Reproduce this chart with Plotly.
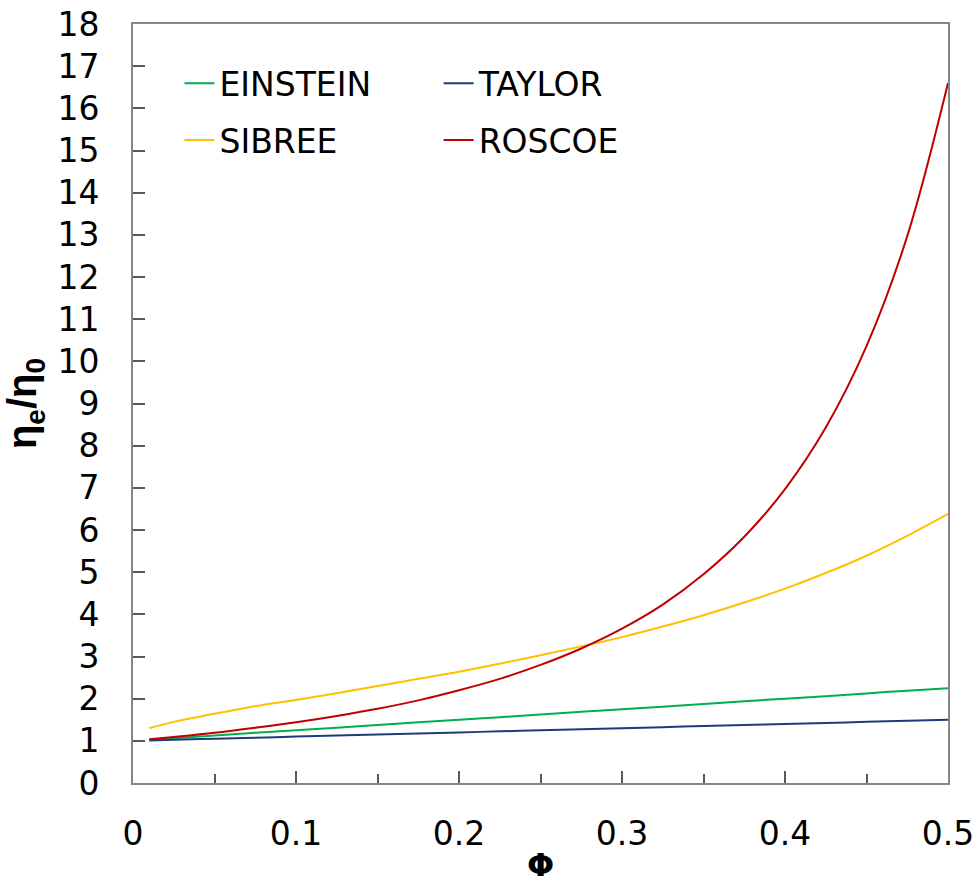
import plotly.graph_objects as go

# Data
phi = [0.01, 0.025, 0.05, 0.075, 0.1, 0.125, 0.15, 0.175, 0.2, 0.225, 0.25, 0.275,
       0.3, 0.325, 0.35, 0.375, 0.4, 0.425, 0.45, 0.475, 0.5]
einstein = [1.025, 1.06, 1.125, 1.19, 1.25, 1.31, 1.375, 1.44, 1.5, 1.56, 1.625, 1.69,
            1.75, 1.81, 1.875, 1.94, 2.0, 2.06, 2.125, 2.19, 2.25]
taylor = [1.01, 1.025, 1.05, 1.075, 1.1, 1.125, 1.15, 1.175, 1.2, 1.225, 1.25, 1.275,
          1.3, 1.325, 1.35, 1.375, 1.4, 1.425, 1.45, 1.475, 1.5]
sibree = [1.30, 1.45, 1.64, 1.82, 1.97, 2.13, 2.30, 2.47, 2.64, 2.83, 3.03, 3.24,
          3.46, 3.71, 3.98, 4.28, 4.61, 4.98, 5.39, 5.86, 6.38]
roscoe = [1.035, 1.09, 1.19, 1.31, 1.44, 1.59, 1.76, 1.96, 2.20, 2.47, 2.80, 3.19,
          3.66, 4.23, 4.95, 5.84, 6.97, 8.43, 10.36, 12.97, 16.6]

names = ["EINSTEIN", "TAYLOR", "SIBREE", "ROSCOE"]
colors = ["#00B050", "#1F3A7A", "#FFC000", "#C00000"]
series = [einstein, taylor, sibree, roscoe]
legends = ["legend", "legend2", "legend3", "legend4"]
x_title = "<b>Φ</b>"
y_title = "<b>η<sub>e</sub>/η<sub>0</sub></b>"

fig = go.Figure()
for n, c, s, lg in zip(names, colors, series, legends):
    fig.add_trace(go.Scatter(x=phi, y=s, mode="lines", name=n, showlegend=True,
                             line=dict(color=c, width=2, shape="spline"),
                             legend=lg))

tickfont = dict(family="DejaVu Sans", size=33, color="#000000")
legfont = dict(family="DejaVu Sans", size=33, color="#000000")

def leg(x, y):
    return dict(x=x, y=y, xanchor="left", yanchor="middle", font=legfont,
                bgcolor="rgba(0,0,0,0)", borderwidth=0, itemwidth=30, visible=True)

fig.update_layout(
    width=979, height=886,
    showlegend=True,
    margin=dict(l=133, r=31, t=24, b=103),
    plot_bgcolor="white", paper_bgcolor="white",
    legend=leg(0.057, 0.922),
    legend2=leg(0.375, 0.922),
    legend3=leg(0.057, 0.847),
    legend4=leg(0.375, 0.847),
    xaxis=dict(range=[0, 0.5], dtick=0.1, tick0=0, ticks="inside", ticklen=12,
               tickwidth=1.5, tickcolor="#595959", automargin=False,
               minor=dict(dtick=0.05, ticks="inside", ticklen=9, tickwidth=1.5,
                          tickcolor="#595959", showgrid=False),
               showgrid=False, zeroline=False, showline=True, linecolor="#868686",
               linewidth=2, mirror=True, tickfont=tickfont, ticklabelstandoff=20),
    yaxis=dict(range=[0, 18], dtick=1, tick0=0, ticks="inside", ticklen=12,
               tickwidth=1.5, tickcolor="#595959", automargin=False,
               showgrid=False, zeroline=False, showline=True, linecolor="#868686",
               linewidth=2, mirror=True, tickfont=tickfont, ticklabelstandoff=25,
               title=dict(text=y_title,
                          font=dict(family="Liberation Sans", size=40, color="#000000"),
                          standoff=8)),
    annotations=[dict(text=x_title, xref="paper", yref="paper", x=0.5, y=-0.108,
                      xanchor="center", yanchor="middle", showarrow=False,
                      font=dict(family="DejaVu Sans", size=32, color="#000000"))],
)

fig.write_html("out.html")
